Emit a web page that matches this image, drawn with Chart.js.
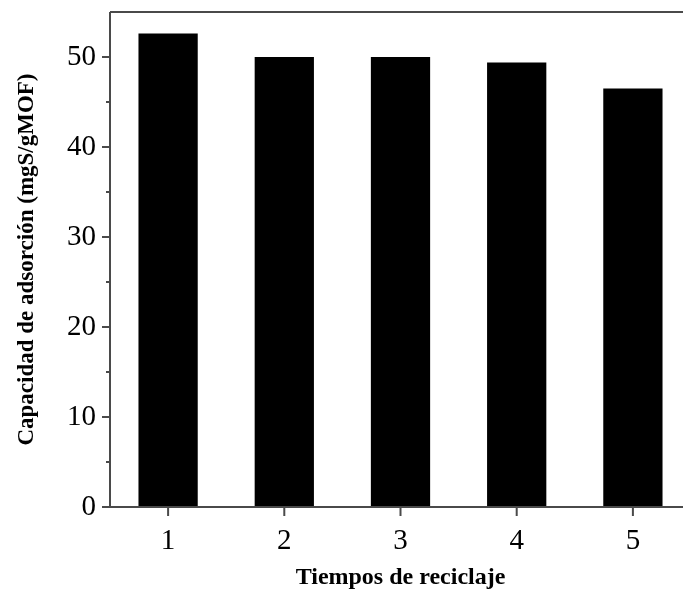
<!DOCTYPE html>
<html>
<head>
<meta charset="utf-8">
<script src="https://cdn.jsdelivr.net/npm/chart.js@4/dist/chart.umd.min.js"></script>
<style>
  html, body { margin: 0; padding: 0; background: #fff; overflow: hidden; }
  #wrap { width: 700px; height: 596px; }
</style>
</head>
<body>
<div id="wrap"><canvas id="chart" width="700" height="596"></canvas></div>
<script>
const cycles = ["1", "2", "3", "4", "5"];
const capacity = [52.6, 50.0, 50.0, 49.4, 46.5];
const yMajor = [0, 10, 20, 30, 40, 50];
const yMinor = [5, 15, 25, 35, 45];

const AXIS = "#4a4a4a";
const SERIF = "'Liberation Serif', 'DejaVu Serif', serif";

// frame + tick marks, drawn from the scales
const framePlugin = {
  id: "frame",
  afterDatasetsDraw(chart) {
    const { ctx, chartArea: a, scales } = chart;
    ctx.save();
    ctx.strokeStyle = AXIS;
    ctx.lineWidth = 2;
    ctx.beginPath();
    ctx.moveTo(a.left, a.top); ctx.lineTo(a.right, a.top);
    ctx.moveTo(a.left, a.top); ctx.lineTo(a.left, a.bottom);
    ctx.moveTo(a.left - 1, a.bottom); ctx.lineTo(a.right, a.bottom);
    ctx.moveTo(a.right, a.top); ctx.lineTo(a.right, a.bottom);
    yMajor.forEach(v => {
      const y = scales.y.getPixelForValue(v);
      ctx.moveTo(a.left - 8, y); ctx.lineTo(a.left, y);
    });
    yMinor.forEach(v => {
      const y = scales.y.getPixelForValue(v);
      ctx.moveTo(a.left - 4, y); ctx.lineTo(a.left, y);
    });
    cycles.forEach((c, i) => {
      const x = scales.x.getPixelForValue(i);
      ctx.moveTo(x, a.bottom); ctx.lineTo(x, a.bottom + 9);
    });
    ctx.stroke();
    ctx.restore();
  }
};

new Chart(document.getElementById("chart"), {
  type: "bar",
  data: {
    labels: cycles,
    datasets: [{
      data: capacity,
      backgroundColor: "#000",
      borderWidth: 0,
      categoryPercentage: 1,
      barPercentage: 0.51,
    }]
  },
  options: {
    responsive: false,
    animation: false,
    layout: { padding: { top: 12, right: 9, left: 0, bottom: 0 } },
    plugins: { legend: { display: false }, tooltip: { enabled: false } },
    scales: {
      x: {
        offset: true,
        border: { display: false },
        grid: { display: false, drawTicks: false },
        ticks: { color: "#000", padding: 17, font: { family: SERIF, size: 29 } },
        title: {
          display: true, text: "Tiempos de reciclaje", color: "#000",
          padding: { top: 0, bottom: 4 },
          font: { family: SERIF, size: 24, weight: "bold" }
        },
        afterFit(s) { s.height = 89; s.paddingLeft = 0; s.paddingRight = 0; }
      },
      y: {
        min: 0, max: 55,
        border: { display: false },
        grid: { display: false, drawTicks: false },
        ticks: {
          stepSize: 10, includeBounds: false, color: "#000", padding: 14,
          font: { family: SERIF, size: 29 }
        },
        title: {
          display: true, text: "Capacidad de adsorción (mgS/gMOF)", color: "#000",
          padding: { top: 13, bottom: 0 },
          font: { family: SERIF, size: 23, weight: "bold" }
        },
        afterFit(s) { s.width = 110; s.paddingTop = 0; s.paddingBottom = 0; }
      }
    }
  },
  plugins: [framePlugin]
});
</script>
</body>
</html>
